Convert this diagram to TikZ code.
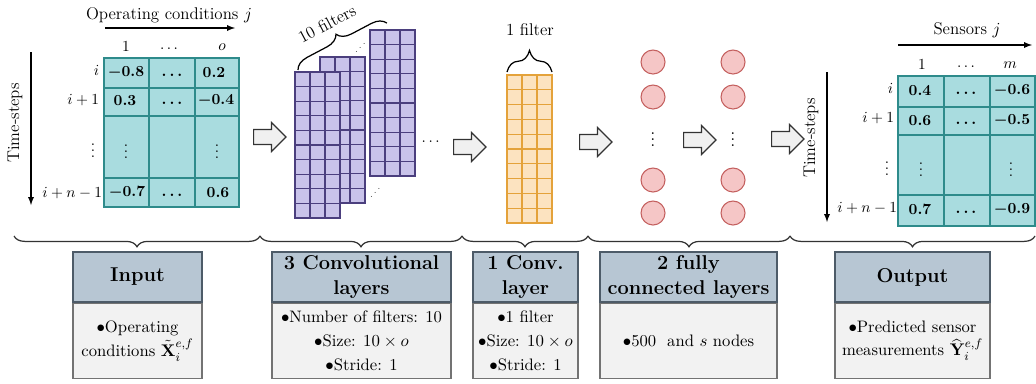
\documentclass[tikz,border=0pt]{standalone}
\usepackage{amsmath,amssymb}
\usetikzlibrary{shapes.arrows,decorations.pathreplacing}

\definecolor{matfill}{HTML}{A9DCDF}
\definecolor{matline}{HTML}{2E8B8B}
\definecolor{filfill}{HTML}{C9C3EA}
\definecolor{filline}{HTML}{4B3F7E}
\definecolor{orfill}{HTML}{FCE3C0}
\definecolor{orline}{HTML}{E4A23A}
\definecolor{neufill}{HTML}{F5C6C6}
\definecolor{neuline}{HTML}{C4605F}
\definecolor{headfill}{HTML}{B7C6D3}
\definecolor{boxline}{HTML}{4D5B68}
\definecolor{bodyfill}{HTML}{F2F2F2}

\tikzset{
  matcell/.style={draw=matline, fill=matfill, line width=0.8pt},
  filcell/.style={draw=filline, fill=filfill, line width=0.7pt},
  orcell/.style={draw=orline, fill=orfill, line width=0.7pt},
  neuron/.style={circle, draw=neuline, fill=neufill, line width=0.7pt, minimum size=15.6pt, inner sep=0pt},
  blockarrow/.style={single arrow, draw=black!80, fill=gray!12, thick, inner sep=4.5pt,
    single arrow head extend=4.5pt, minimum height=21pt},
  headbox/.style={draw=boxline, fill=headfill, thick, minimum height=32.5pt, align=center,
    font=\fontsize{13}{16.5}\selectfont\bfseries, inner sep=1pt},
  bodybox/.style={draw=black!55, fill=bodyfill, thick, minimum height=48.75pt, align=center,
    font=\fontsize{10.8}{15.5}\selectfont, inner sep=1pt},
  lbl/.style={font=\fontsize{11}{13}\selectfont},
  under/.style={decorate, decoration={brace, amplitude=7pt}, thick, black!80},
  timearrow/.style={->, >=latex, thick},
}

\begin{document}
\begin{tikzpicture}[x=0.65pt, y=-0.65pt]
\useasboundingbox (0,0) rectangle (1036,383);

% input matrix
\draw[matcell] (104,58) rectangle (239,207);
\foreach \x in {149,195} { \draw[matline, line width=0.8pt] (\x,58) -- (\x,207); }
\foreach \y in {88,116,178} { \draw[matline, line width=0.8pt] (104,\y) -- (239,\y); }
\node (x11) at (126,73) {$\boldsymbol{-0.8}$};
\node (x12) at (172,75) {$\boldsymbol{\ldots}$};
\node (x13) at (214,73) {$\boldsymbol{0.2}$};
\node (x21) at (125,101) {$\boldsymbol{0.3}$};
\node (x22) at (172,103) {$\boldsymbol{\ldots}$};
\node (x23) at (216,101) {$\boldsymbol{-0.4}$};
\node (x31) at (126,147) {$\boldsymbol{\vdots}$};
\node (x33) at (217,147) {$\boldsymbol{\vdots}$};
\node (x41) at (127,193) {$\boldsymbol{-0.7}$};
\node (x42) at (172,195) {$\boldsymbol{\ldots}$};
\node (x43) at (218,193) {$\boldsymbol{0.6}$};
\node (ci1) at (126,47) {$1$};
\node (ci2) at (169,49) {$\ldots$};
\node (ci3) at (222,47) {$o$};
\node[anchor=east, inner sep=1pt] (ri1) at (101,70) {$i$};
\node[anchor=east, inner sep=1pt] (ri2) at (101,100) {$i+1$};
\node (ri3) at (93,146) {$\vdots$};
\node[anchor=east, inner sep=1pt] (ri4) at (104,193) {$i+n-1$};
\node[lbl] (opcond) at (169,15) {Operating conditions $j$};
\coordinate (opA) at (105,28);
\coordinate (opB) at (235,28);
\draw[timearrow] (opA) -- (opB);
\coordinate (tsA) at (31,52);
\coordinate (tsB) at (31,205);
\draw[timearrow] (tsA) -- (tsB);
\node[lbl, rotate=90] (tsin) at (15,123) {Time-steps};

\node[blockarrow] (ar1) at (266,137) {};

% 3 conv layers, 10 filters
\foreach \fx/\fy in {370/30, 320/57, 295/72} {
  \foreach \i in {0,1,2} {
    \foreach \j in {0,...,9} { \draw[filcell] ({\fx+15*\i},{\fy+14.6*\j}) rectangle +(15,14.6); }
  }
}
\node[rotate=45, inner sep=0pt, font=\tiny] (fdot1) at (361,47) {$\cdots$};
\node[rotate=45, inner sep=0pt, font=\tiny] (fdot2) at (376,192) {$\cdots$};
\coordinate (brA) at (298,70);
\coordinate (brB) at (387,23);
\draw[decorate, decoration={brace, amplitude=9pt}, thick] (brA) -- (brB);
\node[lbl, rotate=28] (tenf) at (327,24) {10 filters};
\node (cdots) at (432,142) {$\cdots$};

\node[blockarrow] (ar2) at (466,147) {};

% 1 conv layer
\foreach \i in {0,1,2} {
  \foreach \j in {0,...,9} { \draw[orcell] ({507+15*\i},{75+14.8*\j}) rectangle +(15,14.8); }
}
\coordinate (obA) at (507,72);
\coordinate (obB) at (552,72);
\draw[decorate, decoration={brace, amplitude=14pt}, thick] (obA) -- (obB);
\node[lbl] (onef) at (530,30) {1 filter};

\node[blockarrow] (ar3) at (592,142) {};

% fully connected layers
\foreach \y in {62,97,180,213} {
  \node[neuron] (na\y) at (653,\y) {};
  \node[neuron] (nb\y) at (733,\y) {};
}
\node[font=\large, inner sep=0pt] (nadot) at (653,135) {$\vdots$};
\node[font=\large, inner sep=0pt] (nbdot) at (733,135) {$\vdots$};

\node[blockarrow] (ar4) at (696,140) {};
\node[blockarrow] (ar5) at (784,139) {};

% output matrix
\draw[matcell] (898,76) rectangle (1035,226);
\foreach \x in {944,990} { \draw[matline, line width=0.8pt] (\x,76) -- (\x,226); }
\foreach \y in {107,135,195} { \draw[matline, line width=0.8pt] (898,\y) -- (1035,\y); }
\node (y11) at (920,91) {$\boldsymbol{0.4}$};
\node (y12) at (966,93) {$\boldsymbol{\ldots}$};
\node (y13) at (1012,91) {$\boldsymbol{-0.6}$};
\node (y21) at (920,121) {$\boldsymbol{0.6}$};
\node (y22) at (966,123) {$\boldsymbol{\ldots}$};
\node (y23) at (1012,121) {$\boldsymbol{-0.5}$};
\node (y31) at (921,165) {$\boldsymbol{\vdots}$};
\node (y33) at (1011,165) {$\boldsymbol{\vdots}$};
\node (y41) at (920,210) {$\boldsymbol{0.7}$};
\node (y42) at (966,212) {$\boldsymbol{\ldots}$};
\node (y43) at (1012,210) {$\boldsymbol{-0.9}$};
\node (co1) at (922,65) {$1$};
\node (co2) at (966,67) {$\ldots$};
\node (co3) at (1010,65) {$m$};
\node[anchor=east, inner sep=1pt] (ro1) at (895,88) {$i$};
\node[anchor=east, inner sep=1pt] (ro2) at (896,118) {$i+1$};
\node (ro3) at (887,164) {$\vdots$};
\node[anchor=east, inner sep=1pt] (ro4) at (899,208) {$i+n-1$};
\node[lbl] (sensj) at (967,30) {Sensors $j$};
\coordinate (seA) at (898,45);
\coordinate (seB) at (1032,45);
\draw[timearrow] (seA) -- (seB);
\coordinate (toA) at (827,72);
\coordinate (toB) at (827,222);
\draw[timearrow] (toA) -- (toB);
\node[lbl, rotate=90] (tsout) at (811,138) {Time-steps};

% braces under the stages
\foreach \ua/\ub in {14/260, 260/462, 462/588, 588/790, 790/1035} {
  \draw[under] (\ub,236) -- (\ua,236);
}

% description boxes
\node[headbox, minimum width=83.9pt] (hin) at (137.5,277) {Input};
\node[bodybox, minimum width=83.9pt, anchor=north] (bin) at (hin.south) {$\bullet$Operating\\conditions $\tilde{\mathbf{X}}_i^{e,f}$};
\node[headbox, minimum width=116.4pt] (hconv) at (361.5,277) {3 Convolutional\\layers};
\node[bodybox, minimum width=116.4pt, anchor=north] (bconv) at (hconv.south) {$\bullet$Number of filters: 10\\$\bullet$Size: $10\times o$\\$\bullet$Stride: 1};
\node[headbox, minimum width=68.3pt] (hone) at (525.5,277) {1 Conv.\\layer};
\node[bodybox, minimum width=68.3pt, anchor=north] (bone) at (hone.south) {$\bullet$1 filter\\$\bullet$Size: $10\times o$\\$\bullet$Stride: 1};
\node[headbox, minimum width=115pt] (hfc) at (688.5,277) {2 fully\\connected layers};
\node[bodybox, minimum width=115pt, anchor=north] (bfc) at (hfc.south) {$\bullet$500\ \ and $s$ nodes};
\node[headbox, minimum width=100.8pt] (hout) at (912.5,277) {Output};
\node[bodybox, minimum width=100.8pt, anchor=north] (bout) at (hout.south) {$\bullet$Predicted sensor\\measurements $\widehat{\mathbf{Y}}_i^{e,f}$};
\end{tikzpicture}
\end{document}
